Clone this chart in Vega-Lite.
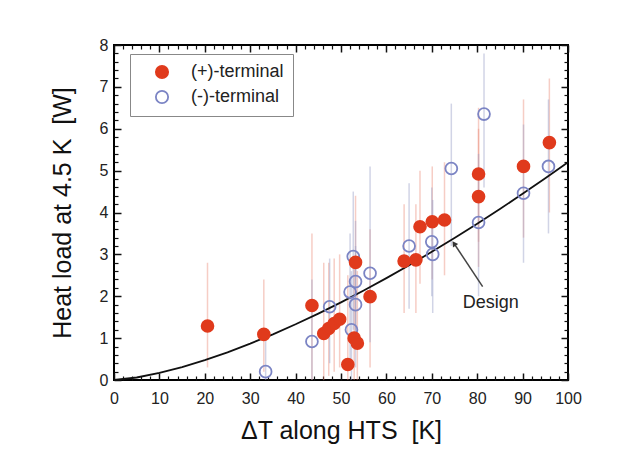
{
  "$schema": "https://vega.github.io/schema/vega-lite/v6.json",
  "width": 454,
  "height": 335,
  "autosize": {"type": "none"},
  "padding": {"left": 114, "top": 45, "right": 61, "bottom": 70},
  "background": "white",
  "config": {
    "view": {"stroke": "black", "strokeWidth": 2},
    "axis": {"grid": false, "labelFont": "Liberation Sans", "titleFont": "Liberation Sans", "labelColor": "#222", "titleColor": "#111", "titleFontWeight": "normal", "labelFlush": false},
    "font": "Liberation Sans"
  },
  "datasets": {
    "pts": [
      {"series": "(-)-terminal", "x": 33.4, "y": 0.2, "lo": 0.0, "hi": 1.1},
      {"series": "(-)-terminal", "x": 43.6, "y": 0.92, "lo": 0.0, "hi": 2.4},
      {"series": "(-)-terminal", "x": 47.5, "y": 1.75, "lo": 0.4, "hi": 2.9},
      {"series": "(-)-terminal", "x": 52.0, "y": 2.1, "lo": 0.5, "hi": 3.5},
      {"series": "(-)-terminal", "x": 52.3, "y": 1.2, "lo": 0.0, "hi": 2.6},
      {"series": "(-)-terminal", "x": 53.2, "y": 1.8, "lo": 0.3, "hi": 3.2},
      {"series": "(-)-terminal", "x": 53.2, "y": 2.35, "lo": 0.8, "hi": 3.8},
      {"series": "(-)-terminal", "x": 52.7, "y": 2.95, "lo": 1.2, "hi": 4.5},
      {"series": "(-)-terminal", "x": 56.4, "y": 2.55, "lo": 0.9, "hi": 5.1},
      {"series": "(-)-terminal", "x": 65.0, "y": 3.2, "lo": 1.7, "hi": 4.7},
      {"series": "(-)-terminal", "x": 70.0, "y": 3.3, "lo": 2.0, "hi": 4.6},
      {"series": "(-)-terminal", "x": 70.2, "y": 3.0, "lo": 1.6, "hi": 4.3},
      {"series": "(-)-terminal", "x": 74.3, "y": 5.05, "lo": 3.2, "hi": 6.6},
      {"series": "(-)-terminal", "x": 80.3, "y": 3.76, "lo": 2.0, "hi": 5.4},
      {"series": "(-)-terminal", "x": 81.5, "y": 6.35, "lo": 4.6, "hi": 7.8},
      {"series": "(-)-terminal", "x": 90.2, "y": 4.46, "lo": 2.8, "hi": 6.1},
      {"series": "(-)-terminal", "x": 95.7, "y": 5.1, "lo": 3.5, "hi": 6.7},
      {"series": "(+)-terminal", "x": 20.6, "y": 1.29, "lo": 0.3, "hi": 2.8},
      {"series": "(+)-terminal", "x": 33.0, "y": 1.09, "lo": 0.2, "hi": 2.4},
      {"series": "(+)-terminal", "x": 43.6, "y": 1.78, "lo": 0.0, "hi": 3.5},
      {"series": "(+)-terminal", "x": 46.2, "y": 1.11, "lo": 0.0, "hi": 2.8},
      {"series": "(+)-terminal", "x": 47.3, "y": 1.23, "lo": 0.1, "hi": 2.8},
      {"series": "(+)-terminal", "x": 48.5, "y": 1.35, "lo": 0.2, "hi": 2.9},
      {"series": "(+)-terminal", "x": 49.7, "y": 1.45, "lo": 0.3, "hi": 3.0},
      {"series": "(+)-terminal", "x": 51.5, "y": 0.37, "lo": 0.0, "hi": 2.5},
      {"series": "(+)-terminal", "x": 52.9, "y": 1.0, "lo": 0.0, "hi": 2.8},
      {"series": "(+)-terminal", "x": 53.6, "y": 0.88, "lo": 0.0, "hi": 2.6},
      {"series": "(+)-terminal", "x": 53.2, "y": 2.81, "lo": 1.2, "hi": 4.4},
      {"series": "(+)-terminal", "x": 56.4, "y": 1.99, "lo": 0.3, "hi": 3.6},
      {"series": "(+)-terminal", "x": 63.9, "y": 2.84, "lo": 1.6, "hi": 4.2},
      {"series": "(+)-terminal", "x": 66.5, "y": 2.87, "lo": 1.6, "hi": 4.2},
      {"series": "(+)-terminal", "x": 67.4, "y": 3.66, "lo": 2.3, "hi": 5.0},
      {"series": "(+)-terminal", "x": 70.1, "y": 3.78, "lo": 2.4, "hi": 5.1},
      {"series": "(+)-terminal", "x": 72.8, "y": 3.82, "lo": 2.5, "hi": 5.2},
      {"series": "(+)-terminal", "x": 80.3, "y": 4.38, "lo": 2.7, "hi": 6.0},
      {"series": "(+)-terminal", "x": 80.3, "y": 4.92, "lo": 3.3, "hi": 6.5},
      {"series": "(+)-terminal", "x": 90.2, "y": 5.10, "lo": 3.4, "hi": 6.7},
      {"series": "(+)-terminal", "x": 95.9, "y": 5.67, "lo": 4.0, "hi": 7.2}
    ],
    "design": [
      {"x": 0, "y": 0}, {"x": 5, "y": 0.06}, {"x": 10, "y": 0.169}, {"x": 15, "y": 0.31},
      {"x": 20, "y": 0.475}, {"x": 25, "y": 0.662}, {"x": 30, "y": 0.868}, {"x": 35, "y": 1.091},
      {"x": 40, "y": 1.331}, {"x": 45, "y": 1.586}, {"x": 50, "y": 1.855}, {"x": 55, "y": 2.138},
      {"x": 60, "y": 2.432}, {"x": 65, "y": 2.739}, {"x": 70, "y": 3.061}, {"x": 75, "y": 3.39},
      {"x": 80, "y": 3.732}, {"x": 85, "y": 4.085}, {"x": 90, "y": 4.446}, {"x": 95, "y": 4.819},
      {"x": 100, "y": 5.2}
    ],
    "arrow": [{"x": 81.2, "y": 2.23, "x2": 74.9, "y2": 3.26}],
    "label": [{"x": 83.0, "y": 1.84, "text": "Design"}]
  },
  "resolve": {"axis": {"x": "independent", "y": "independent"}},
  "layer": [
    {
      "data": {"name": "pts"},
      "transform": [{"filter": "datum.series === '(+)-terminal'"}],
      "mark": {"type": "rule", "color": "#e8826e", "opacity": 0.4, "strokeWidth": 1.5},
      "encoding": {
        "x": {"field": "x", "type": "quantitative", "scale": {"domain": [0, 100], "nice": false, "zero": false},
          "axis": {"orient": "bottom", "offset": -7, "values": [0, 10, 20, 30, 40, 50, 60, 70, 80, 90, 100], "ticks": true, "tickSize": 7, "tickWidth": 1.5, "tickColor": "#111", "tickOpacity": 1, "labelPadding": 10, "labelFontSize": 16, "domain": false, "title": "ΔT along HTS\u00a0 [K]", "titleFontSize": 25, "titlePadding": 12}},
        "y": {"field": "lo", "type": "quantitative", "scale": {"domain": [0, 8], "nice": false, "zero": false},
          "axis": {"orient": "left", "offset": -7, "values": [0, 1, 2, 3, 4, 5, 6, 7, 8], "ticks": true, "tickSize": 7, "tickWidth": 1.5, "tickColor": "#111", "tickOpacity": 1, "labelPadding": 6, "labelFontSize": 16, "domain": false, "title": "Heat load at 4.5 K\u00a0 [W]", "titleFontSize": 25, "titlePadding": 24}},
        "y2": {"field": "hi"}
      }
    },
    {
      "data": {"name": "pts"},
      "transform": [{"filter": "datum.series === '(-)-terminal'"}],
      "mark": {"type": "rule", "color": "#9aa0c8", "opacity": 0.45, "strokeWidth": 1.5},
      "encoding": {
        "x": {"field": "x", "type": "quantitative", "scale": {"domain": [0, 100], "nice": false, "zero": false},
          "axis": {"orient": "top", "offset": -7, "values": [0, 10, 20, 30, 40, 50, 60, 70, 80, 90, 100], "ticks": true, "tickSize": 7, "tickWidth": 1.5, "tickColor": "#111", "tickOpacity": 1, "labels": false, "domain": false, "title": null}},
        "y": {"field": "lo", "type": "quantitative", "scale": {"domain": [0, 8], "nice": false, "zero": false},
          "axis": {"orient": "right", "offset": -7, "values": [0, 1, 2, 3, 4, 5, 6, 7, 8], "ticks": true, "tickSize": 7, "tickWidth": 1.5, "tickColor": "#111", "tickOpacity": 1, "labels": false, "domain": false, "title": null}},
        "y2": {"field": "hi"}
      }
    },
    {
      "data": {"name": "design"},
      "mark": {"type": "line", "color": "#111", "strokeWidth": 1.8},
      "encoding": {
        "x": {"field": "x", "type": "quantitative", "scale": {"domain": [0, 100], "nice": false, "zero": false},
          "axis": {"orient": "bottom", "offset": -4, "values": [2,4,6,8,12,14,16,18,22,24,26,28,32,34,36,38,42,44,46,48,52,54,56,58,62,64,66,68,72,74,76,78,82,84,86,88,92,94,96,98], "ticks": true, "tickSize": 4, "tickWidth": 1.2, "tickColor": "#111", "tickOpacity": 1, "labels": false, "domain": false, "title": null}},
        "y": {"field": "y", "type": "quantitative", "scale": {"domain": [0, 8], "nice": false, "zero": false},
          "axis": {"orient": "left", "offset": -4, "values": [0.2,0.4,0.6,0.8,1.2,1.4,1.6,1.8,2.2,2.4,2.6,2.8,3.2,3.4,3.6,3.8,4.2,4.4,4.6,4.8,5.2,5.4,5.6,5.8,6.2,6.4,6.6,6.8,7.2,7.4,7.6,7.8], "ticks": true, "tickSize": 4, "tickWidth": 1.2, "tickColor": "#111", "tickOpacity": 1, "labels": false, "domain": false, "title": null}}
      }
    },
    {
      "data": {"name": "pts"},
      "mark": {"type": "point", "size": 140, "strokeWidth": 1.8, "opacity": 1, "shape": "circle"},
      "encoding": {
        "x": {"field": "x", "type": "quantitative", "scale": {"domain": [0, 100], "nice": false, "zero": false},
          "axis": {"orient": "top", "offset": -4, "values": [2,4,6,8,12,14,16,18,22,24,26,28,32,34,36,38,42,44,46,48,52,54,56,58,62,64,66,68,72,74,76,78,82,84,86,88,92,94,96,98], "ticks": true, "tickSize": 4, "tickWidth": 1.2, "tickColor": "#111", "tickOpacity": 1, "labels": false, "domain": false, "title": null}},
        "y": {"field": "y", "type": "quantitative", "scale": {"domain": [0, 8], "nice": false, "zero": false},
          "axis": {"orient": "right", "offset": -4, "values": [0.2,0.4,0.6,0.8,1.2,1.4,1.6,1.8,2.2,2.4,2.6,2.8,3.2,3.4,3.6,3.8,4.2,4.4,4.6,4.8,5.2,5.4,5.6,5.8,6.2,6.4,6.6,6.8,7.2,7.4,7.6,7.8], "ticks": true, "tickSize": 4, "tickWidth": 1.2, "tickColor": "#111", "tickOpacity": 1, "labels": false, "domain": false, "title": null}},
        "fill": {"field": "series", "type": "nominal", "scale": {"domain": ["(+)-terminal", "(-)-terminal"], "range": ["#e03a1c", "transparent"]},
          "legend": {"orient": "none", "legendX": 16, "legendY": 9, "title": null, "strokeColor": "#888", "fillColor": "white", "padding": 9, "symbolOffset": 14, "labelOffset": 20, "labelFontSize": 18, "labelFont": "Liberation Sans", "labelColor": "#222", "symbolSize": 150, "symbolStrokeWidth": 1.8, "rowPadding": 5}},
        "stroke": {"field": "series", "type": "nominal", "scale": {"domain": ["(+)-terminal", "(-)-terminal"], "range": ["#e03a1c", "#7b84c4"]},
          "legend": {"orient": "none", "legendX": 16, "legendY": 9, "title": null, "strokeColor": "#888", "fillColor": "white", "padding": 9, "symbolOffset": 14, "labelOffset": 20, "labelFontSize": 18, "labelFont": "Liberation Sans", "labelColor": "#222", "symbolSize": 150, "symbolStrokeWidth": 1.8, "rowPadding": 5}}
      }
    },
    {
      "data": {"name": "arrow"},
      "mark": {"type": "rule", "color": "#444", "strokeWidth": 1.5},
      "encoding": {
        "x": {"field": "x", "type": "quantitative", "axis": null},
        "y": {"field": "y", "type": "quantitative", "axis": null},
        "x2": {"field": "x2"},
        "y2": {"field": "y2"}
      }
    },
    {
      "data": {"name": "arrow"},
      "mark": {"type": "point", "shape": "triangle-up", "angle": 326, "size": 40, "filled": true, "color": "#333", "opacity": 1},
      "encoding": {
        "x": {"field": "x2", "type": "quantitative", "axis": null},
        "y": {"field": "y2", "type": "quantitative", "axis": null}
      }
    },
    {
      "data": {"name": "label"},
      "mark": {"type": "text", "fontSize": 18, "font": "Liberation Sans", "color": "#222", "align": "center", "baseline": "middle"},
      "encoding": {
        "x": {"field": "x", "type": "quantitative", "axis": null},
        "y": {"field": "y", "type": "quantitative", "axis": null},
        "text": {"field": "text"}
      }
    }
  ]
}
